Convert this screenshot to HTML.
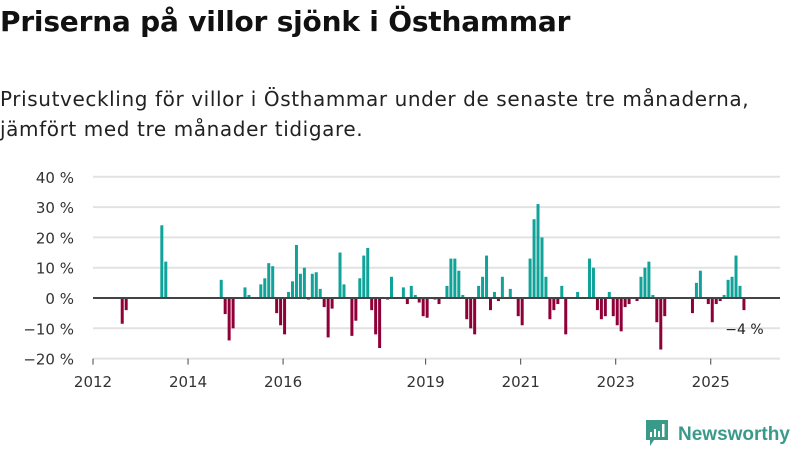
<!DOCTYPE html>
<html><head><meta charset="utf-8">
<style>
body{margin:0;width:800px;height:450px;background:#fff;font-family:"DejaVu Sans","Liberation Sans",sans-serif;overflow:hidden;position:relative}
#title{position:absolute;left:0;top:5px;font-size:28px;font-weight:bold;color:#111;letter-spacing:-0.2px;white-space:nowrap}
#sub{position:absolute;left:0;top:84px;font-size:20px;line-height:30px;color:#222;white-space:nowrap;letter-spacing:0.6px}
svg{position:absolute;left:0;top:0}
</style></head><body>
<div id="title">Priserna på villor sjönk i Östhammar</div>
<div id="sub">Prisutveckling för villor i Östhammar under de senaste tre månaderna,<br>jämfört med tre månader tidigare.</div>
<svg id="chart" width="800" height="450">
<g id="grid"></g><g id="bars"></g><g id="axes"></g>
<g>
<path d="M646 420 h22 v20 h-14 l-4 6 v-6 h-4 z" fill="#3a9a8a"/>
<rect x="650" y="432" width="2" height="5" fill="#fff"/><rect x="654" y="429" width="2" height="8" fill="#fff"/><rect x="658" y="431" width="2" height="6" fill="#fff"/><rect x="662" y="424" width="2.5" height="13" fill="#fff"/>
<text x="678" y="440" font-size="19" font-weight="bold" fill="#3a9a8a" font-family="Liberation Sans, sans-serif">Newsworthy</text>
</g>
</svg>
<script>
// monthly values from Jan 2012 (index 0); null = no data
const startYear = 2012;
const values = [
null,null,null,null,null,null,null,-8.5,-4,null,null,null,
null,null,null,null,null,24,12,null,null,null,null,null,
null,null,null,null,null,null,null,null,6,-5.3,-14,-10,
null,null,3.5,1,null,null,4.5,6.5,11.5,10.5,-5,-9,
-12,2,5.5,17.5,8,10,-0.5,8,8.5,3,-3,-13,
-3.5,null,15,4.5,null,-12.5,-7.5,6.5,14,16.5,-4,-12,
-16.5,null,-0.5,7,null,null,3.5,-2,4,1,-1.5,-6,
-6.5,null,-0.5,-2,null,4,13,13,9,1,-7,-10,
-12,4,7,14,-4,2,-1,7,null,3,null,-6,
-9,null,13,26,31,20,7,-7,-4,-2,4,-12,
null,null,2,null,null,13,10,-4,-7,-6,2,-6,
-9,-11,-3,-2,null,-1,7,10,12,1,-8,-17,
-6,null,null,null,null,null,null,-5,5,9,null,-2,
-8,-2,-1,1,6,7,14,4,-4
];
const yTicks = [40,30,20,10,0,-10,-20];
const yTickLabels = ["40 %","30 %","20 %","10 %","0 %","−10 %","−20 %"];
const xTickYears = [2012,2014,2016,2019,2021,2023,2025];
const lastLabel = "−4 %";

const NS="http://www.w3.org/2000/svg";
const x0=93, x1=780, monthW=3.96;
function yScale(v){return 298 - v*3.03;}
function xScale(m){return x0 + m*monthW;}
function mk(tag,attrs,parent){const e=document.createElementNS(NS,tag);for(const k in attrs)e.setAttribute(k,attrs[k]);parent.appendChild(e);return e;}
const grid=document.getElementById('grid'),bars=document.getElementById('bars'),axes=document.getElementById('axes');
yTicks.forEach((t,i)=>{
  if(t!==0){const l=mk('line',{x1:x0,x2:x1,y1:yScale(t),y2:yScale(t),stroke:'#e2e2e2','stroke-width':2},grid);
  
  }
  const tx=mk('text',{x:74,y:yScale(t)+6,'text-anchor':'end','font-size':15,fill:'#333','font-family':'DejaVu Sans, sans-serif'},axes);
  tx.textContent=yTickLabels[i];
  
  
});
values.forEach((v,m)=>{
  if(v===null)return;
  const y=yScale(Math.max(v,0)),h=Math.abs(yScale(v)-yScale(0));
  const r=mk('rect',{x:xScale(m),y:y,width:3,height:h,fill:v>=0?'#10a39a':'#8f0038'},bars);
  
  
});
const zl=mk('line',{x1:x0,x2:x1,y1:yScale(0),y2:yScale(0),stroke:'#444','stroke-width':2},axes);


xTickYears.forEach(yr=>{
  const x=xScale((yr-startYear)*12);
  const tk=mk('line',{x1:x,x2:x,y1:yScale(-20),y2:yScale(-20)+6,stroke:'#444','stroke-width':1},axes);
  
  
  const tx=mk('text',{x:x,y:387,'text-anchor':'middle','font-size':15,fill:'#333','font-family':'DejaVu Sans, sans-serif'},axes);
  tx.textContent=yr;
  
  
});
let lastI=values.length-1;
const ll=mk('text',{x:xScale(lastI)+2,y:yScale(values[lastI])+24,'text-anchor':'middle','font-size':14,fill:'#222','font-family':'DejaVu Sans, sans-serif'},axes);
ll.textContent=lastLabel;


</script>
</body></html>
